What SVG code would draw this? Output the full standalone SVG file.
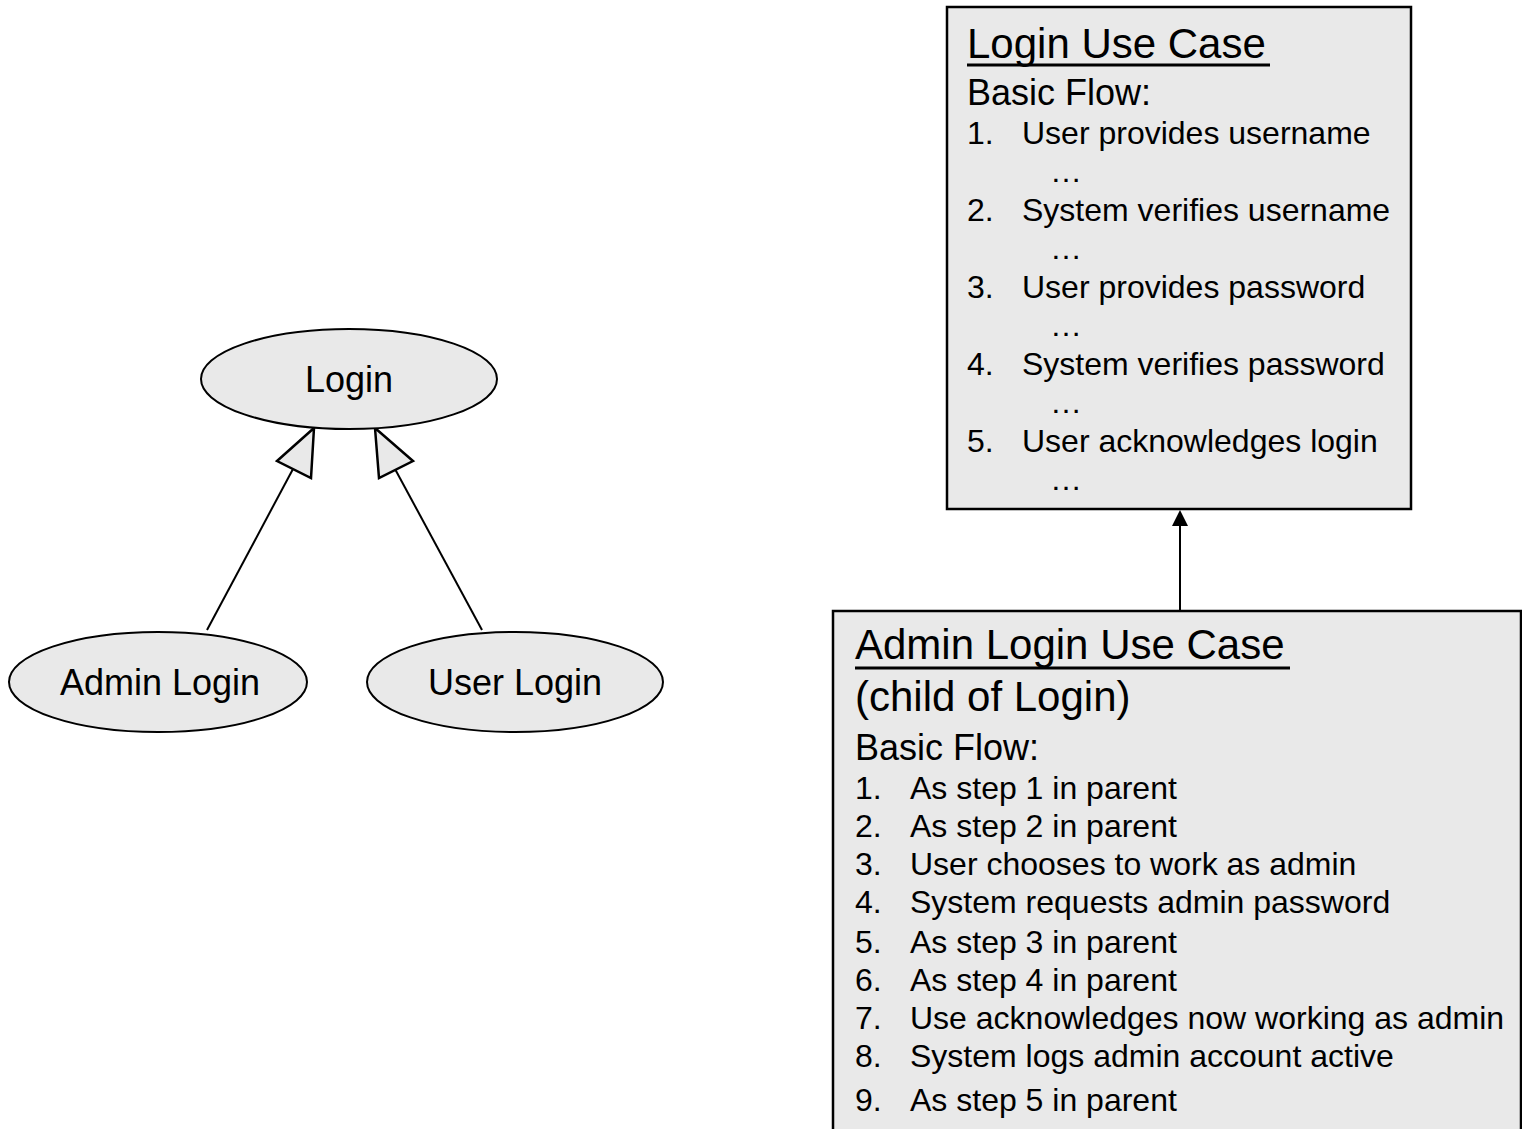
<svg xmlns="http://www.w3.org/2000/svg" width="1522" height="1129" viewBox="0 0 1522 1129">
  <style>
    text { font-family: "Liberation Sans", Arial, sans-serif; fill: #000; }
    .uc { fill: #e9e9e9; stroke: #000; stroke-width: 2; }
    .box { fill: #e9e9e9; stroke: #000; stroke-width: 2.5; }
    .name { font-size: 36px; text-anchor: middle; }
    .title { font-size: 42px; }
    .uline { stroke: #000; stroke-width: 3; }
    .sub { font-size: 42px; }
    .flow { font-size: 36px; }
    .step { font-size: 32px; }
    .link { fill: none; stroke: #000; stroke-width: 2; }
    .gen { fill: #e9e9e9; stroke: #000; stroke-width: 2.5; stroke-linejoin: miter; }
  </style>

  <!-- connectors -->
  <g id="connectors">
    <line class="link" x1="207" y1="630" x2="293" y2="469"/>
    <polygon class="gen" points="314,428 277,461 311,478"/>
    <line class="link" x1="482" y1="630" x2="395" y2="469"/>
    <polygon class="gen" points="375,428 413,461 379,478"/>
    <line class="link" x1="1180" y1="610" x2="1180" y2="525"/>
    <polygon points="1180,510 1172,526 1188,526" fill="#000"/>
  </g>

  <!-- use case ellipses -->
  <g id="login">
    <ellipse class="uc" cx="349" cy="379" rx="148" ry="50"/>
    <text class="name" x="349" y="392">Login</text>
  </g>
  <g id="admin-login">
    <ellipse class="uc" cx="158" cy="682" rx="149" ry="50"/>
    <text class="name" x="160" y="695">Admin Login</text>
  </g>
  <g id="user-login">
    <ellipse class="uc" cx="515" cy="682" rx="148" ry="50"/>
    <text class="name" x="515" y="695">User Login</text>
  </g>

  <!-- parent use case description -->
  <g id="login-use-case">
    <rect class="box" x="947" y="7" width="464" height="502"/>
    <text class="title" x="967" y="58">Login Use Case</text>
    <line class="uline" x1="967" y1="65" x2="1270" y2="65"/>
    <text class="flow" x="967" y="105">Basic Flow:</text>
    <g class="step">
      <text x="967" y="144">1.</text><text x="1022" y="144">User provides username</text>
      <text x="1050" y="182">…</text>
      <text x="967" y="221">2.</text><text x="1022" y="221">System verifies username</text>
      <text x="1050" y="259">…</text>
      <text x="967" y="298">3.</text><text x="1022" y="298">User provides password</text>
      <text x="1050" y="336">…</text>
      <text x="967" y="375">4.</text><text x="1022" y="375">System verifies password</text>
      <text x="1050" y="413">…</text>
      <text x="967" y="452">5.</text><text x="1022" y="452">User acknowledges login</text>
      <text x="1050" y="490">…</text>
    </g>
  </g>

  <!-- child use case description -->
  <g id="admin-login-use-case">
    <rect class="box" x="833" y="611" width="688" height="560"/>
    <text class="title" x="855" y="659">Admin Login Use Case</text>
    <line class="uline" x1="855" y1="668" x2="1290" y2="668"/>
    <text class="sub" x="855" y="711">(child of Login)</text>
    <text class="flow" x="855" y="760">Basic Flow:</text>
    <g class="step">
      <text x="855" y="799">1.</text><text x="910" y="799">As step 1 in parent</text>
      <text x="855" y="837">2.</text><text x="910" y="837">As step 2 in parent</text>
      <text x="855" y="875">3.</text><text x="910" y="875">User chooses to work as admin</text>
      <text x="855" y="913">4.</text><text x="910" y="913">System requests admin password</text>
      <text x="855" y="953">5.</text><text x="910" y="953">As step 3 in parent</text>
      <text x="855" y="991">6.</text><text x="910" y="991">As step 4 in parent</text>
      <text x="855" y="1029">7.</text><text x="910" y="1029">Use acknowledges now working as admin</text>
      <text x="855" y="1067">8.</text><text x="910" y="1067">System logs admin account active</text>
      <text x="855" y="1111">9.</text><text x="910" y="1111">As step 5 in parent</text>
    </g>
  </g>
</svg>
